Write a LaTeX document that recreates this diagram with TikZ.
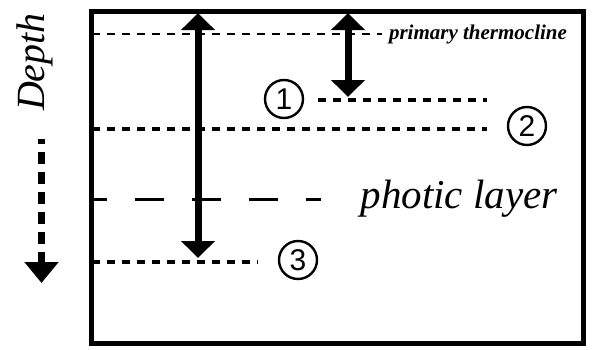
\documentclass[tikz,border=0pt]{standalone}
\usepackage{fontspec}
\setmainfont{Liberation Serif}
\newfontfamily\digitfont{Liberation Sans}
\usetikzlibrary{arrows.meta}

\tikzset{
  frame/.style={line width=5pt},
  levelline/.style={line width=4pt, dash pattern=on 8pt off 7pt},
  thermoline/.style={line width=2.6pt, dash pattern=on 8pt off 7pt},
  photicline/.style={line width=3pt, dash pattern=on 29pt off 28pt, dash phase=14pt},
  bigarrow/.style={line width=7pt, {Triangle[length=17pt,width=33pt]}-{Triangle[length=17pt,width=33pt]}},
  deptharrow/.style={line width=6.5pt, dash pattern=on 12pt off 8pt, dash phase=7pt, -{Triangle[length=21pt,width=33pt]}},
  marker/.style={circle, draw, line width=2.4pt, minimum size=38pt, inner sep=0pt, font=\digitfont\fontsize{30}{30}\selectfont},
  label/.style={inner sep=0pt, font=\itshape\fontsize{41}{41}\selectfont},
}

\begin{document}
\begin{tikzpicture}[x=1pt, y=-1pt]
  % page area
  \fill[white] (0,0) rectangle (595,349);
  \useasboundingbox (0,0) rectangle (595,349);

  % ocean column
  \draw[frame] (91,11) rectangle (583,343);

  % reference points on the frame and the levels
  \coordinate (topA) at (198,13);
  \coordinate (topB) at (348,13);
  \coordinate (th0) at (92,34);   \coordinate (th1) at (382,34);
  \coordinate (l1a) at (318,100); \coordinate (l1b) at (487,100);
  \coordinate (l2a) at (92,129);  \coordinate (l2b) at (487,129);
  \coordinate (ph0) at (92,199);  \coordinate (ph1) at (321,199);
  \coordinate (l3a) at (92,262);  \coordinate (l3b) at (258,262);
  \coordinate (botA) at (198,258);
  \coordinate (botB) at (348,97);

  % level lines
  \draw[thermoline] (th0) -- (th1);
  \draw[levelline] (l1a) -- (l1b);
  \draw[levelline] (l2a) -- (l2b);
  \draw[photicline] (ph0) -- (ph1);
  \draw[levelline] (l3a) -- (l3b);

  % depth ranges
  \draw[bigarrow] (topA) -- (botA);
  \draw[bigarrow] (topB) -- (botB);

  % numbered markers
  \node[marker] (m1) at (284,99) {1};
  \node[marker] (m2) at (527,126) {2};
  \node[marker] (m3) at (298,260) {3};

  % labels
  \node[inner sep=0pt, font=\bfseries\itshape\fontsize{21}{21}\selectfont] (thermo) at (478,34) {primary thermocline};
  \node[label] (photic) at (459,199) {photic layer};
  \node[label, rotate=90, font=\itshape\fontsize{40}{40}\selectfont] (depth) at (35,62) {Depth};

  % depth direction
  \coordinate (d0) at (41.5,139);
  \coordinate (d1) at (41.5,283);
  \draw[deptharrow] (d0) -- (d1);
\end{tikzpicture}
\end{document}
